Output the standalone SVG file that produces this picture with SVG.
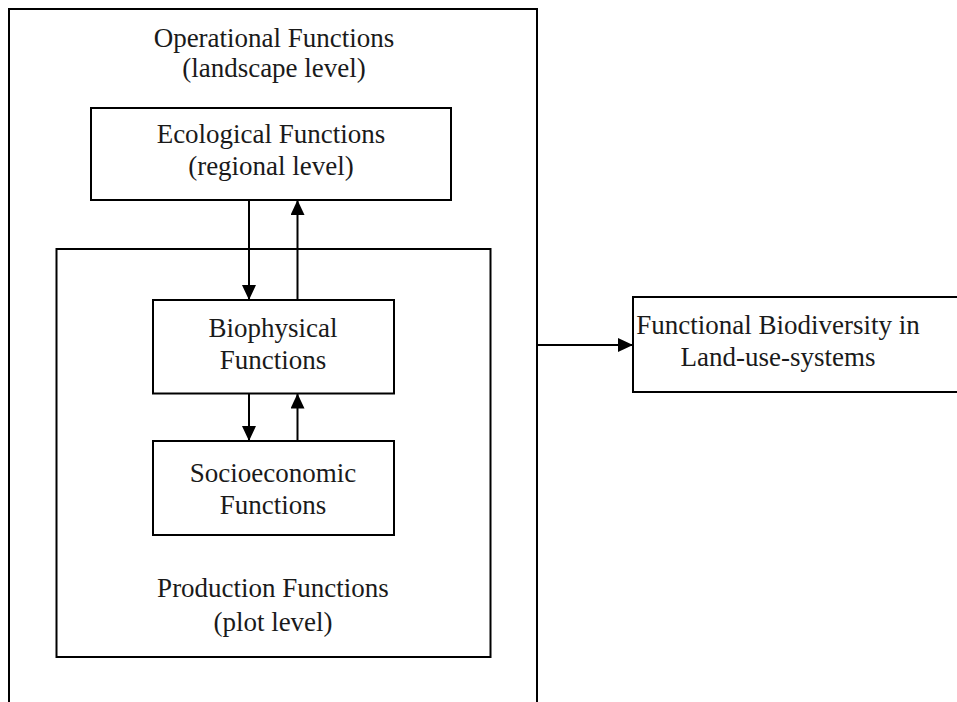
<svg xmlns="http://www.w3.org/2000/svg" width="957" height="702" viewBox="0 0 957 702">
  <style>
    .box { fill: none; stroke: #000; stroke-width: 2; }
    .lbl { font-family: "Liberation Serif", "DejaVu Serif", serif; font-size: 27px; fill: #1a1a1a; text-anchor: middle; }
    .wire { stroke: #000; stroke-width: 2; fill: none; }
  </style>
  <defs>
    <marker id="head" viewBox="0 0 15 14" refX="15" refY="7" markerWidth="15" markerHeight="14" markerUnits="userSpaceOnUse" orient="auto">
      <path d="M0,0 L15,7 L0,14 Z" fill="#000"/>
    </marker>
  </defs>
  <rect width="957" height="702" fill="#fff"/>

  <g id="operational">
    <path class="box" d="M9,710 V9 H537 V710"/>
    <text class="lbl" x="274" y="47">Operational Functions</text>
    <text class="lbl" x="274" y="77">(landscape level)</text>
  </g>

  <g id="ecological">
    <rect class="box" x="91" y="108" width="360" height="92"/>
    <text class="lbl" x="271" y="143">Ecological Functions</text>
    <text class="lbl" x="271" y="175">(regional level)</text>
  </g>

  <g id="production">
    <rect class="box" x="56.5" y="249" width="434" height="408"/>
    <text class="lbl" x="273" y="597">Production Functions</text>
    <text class="lbl" x="273" y="631">(plot level)</text>
  </g>

  <g id="biophysical">
    <rect class="box" x="153" y="300" width="241" height="93.5"/>
    <text class="lbl" x="273" y="337">Biophysical</text>
    <text class="lbl" x="273" y="369">Functions</text>
  </g>

  <g id="socioeconomic">
    <rect class="box" x="153" y="441" width="241" height="94"/>
    <text class="lbl" x="273" y="482">Socioeconomic</text>
    <text class="lbl" x="273" y="514">Functions</text>
  </g>

  <g id="biodiversity">
    <path class="box" d="M970,297 H633 V392 H970"/>
    <text class="lbl" x="778" y="334">Functional Biodiversity in</text>
    <text class="lbl" x="778" y="366">Land-use-systems</text>
  </g>

  <g id="connectors">
    <line class="wire" x1="249" y1="200" x2="249" y2="300" marker-end="url(#head)"/>
    <line class="wire" x1="297.5" y1="300" x2="297.5" y2="200" marker-end="url(#head)"/>
    <line class="wire" x1="249" y1="393.5" x2="249" y2="441" marker-end="url(#head)"/>
    <line class="wire" x1="297.5" y1="441" x2="297.5" y2="393.5" marker-end="url(#head)"/>
    <line class="wire" x1="537" y1="345" x2="633" y2="345" marker-end="url(#head)"/>
  </g>
</svg>
